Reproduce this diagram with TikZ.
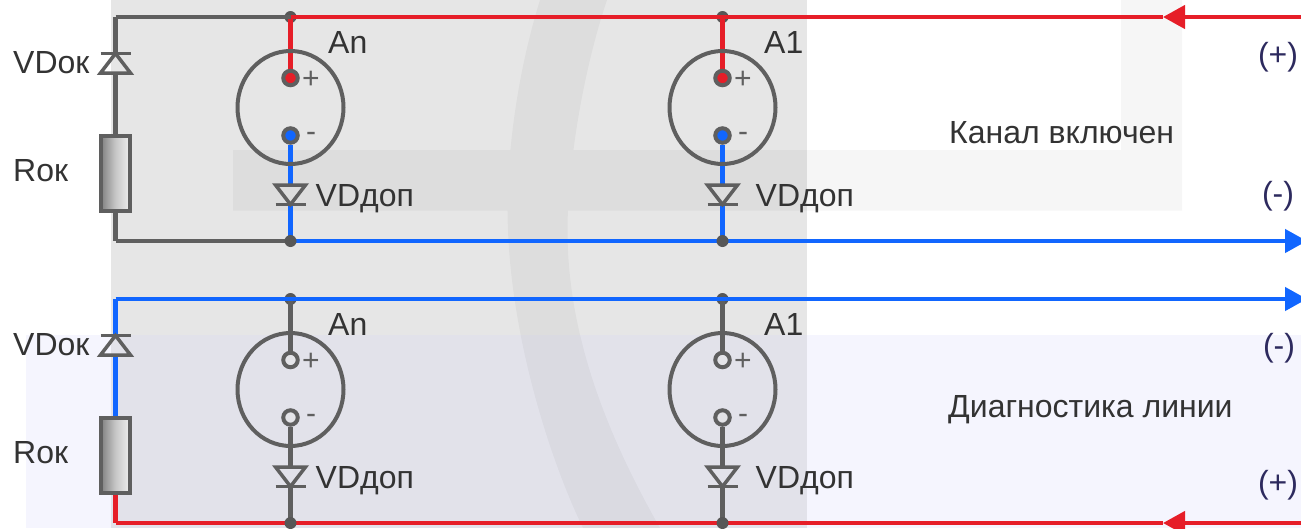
\documentclass[tikz,border=0pt]{standalone}
\usepackage{fontspec}
\setmainfont{Liberation Sans}
\usetikzlibrary{arrows.meta,calc,shapes.geometric}
\definecolor{wgray}{HTML}{5F5F5F}
\definecolor{wred}{HTML}{E61E28}
\definecolor{wblue}{HTML}{1166FF}
\definecolor{lav}{HTML}{F5F5FE}
\definecolor{bgray}{HTML}{E6E6E6}
\definecolor{both}{HTML}{E2E2EA}
\definecolor{txt}{HTML}{333333}
\definecolor{navy}{HTML}{2D2A5E}
\pgfdeclarelayer{dots}
\pgfdeclarelayer{wires}
\pgfsetlayers{dots,wires,main}
\tikzset{
  wire/.style={line width=4.4pt,miter limit=10},
  junction/.style={circle,fill=wgray!92!black,inner sep=0pt,minimum size=12pt},
  term/.style={circle,draw=wgray,line width=4pt,inner sep=0pt,minimum size=14.5pt},
  body/.style={ellipse,draw=wgray,line width=4pt,inner sep=0pt,minimum width=106pt,minimum height=113pt},
  res/.style={rectangle,draw=wgray,line width=4pt,inner sep=0pt,minimum width=29.5pt,minimum height=75pt,
    left color=black!50,right color=black!6,middle color=black!22},
  sym/.style={draw=wgray,line width=3.5pt,line join=miter,miter limit=10},
  lab/.style={anchor=base west,inner sep=0pt,text=txt,font=\fontsize{32}{32}\selectfont},
  sgn/.style={anchor=base,inner sep=0pt,text=wgray,font=\fontsize{30}{30}\selectfont},
  pol/.style={anchor=base,inner sep=0pt,text=navy,font=\fontsize{32}{32}\selectfont},
  bigarrow/.style={-{Triangle[length=22pt,width=23pt]}},
}
% unit: name, x, y offset, colour of + lead, colour of - lead, fill of + , fill of -, label
\newcommand\SensorUnit[8]{%
  \begin{pgfonlayer}{dots}
    \node[junction] (#1top) at (#2,17+#3) {};
  \end{pgfonlayer}
  \node[junction] (#1bot) at (#2,241+#3) {};
  \node[body] (#1body) at (#2,107.5+#3) {};
  \node[term,fill=#6] (#1plus) at (#2,78+#3) {};
  \node[term,fill=#7] (#1minus) at (#2,135.5+#3) {};
  \coordinate (#1da) at (#2,185+#3);
  \coordinate (#1dk) at (#2,204.5+#3);
  \begin{pgfonlayer}{wires}
    \draw[wire,#4] (#1top.center) -- (#1plus.north);
    \draw[wire,#5] (#1minus.south) -- (#1da);
    \draw[wire,#5] (#1dk) -- (#1bot.center);
  \end{pgfonlayer}
  \draw[sym] ($(#1da)+(-15,0)$) -- ($(#1da)+(15,0)$) -- (#1dk) -- cycle;
  \draw[sym] ($(#1dk)+(-15,0)$) -- ($(#1dk)+(15,0)$);
  \node[sgn] (#1ps) at (#2+20.5,88.5+#3) {+};
  \node[sgn] (#1ms) at (#2+20.5,141.5+#3) {-};
  \node[lab] (#1name) at (#2+#8,53.5+#3) {\ifdim#2pt<500pt An\else A1\fi};
  \node[lab] (#1vd) at (#2+\ifdim#2pt<500pt 25\else 33\fi,206+#3) {VDдоп};
}
% left branch: name, y offset, upper colour, lower colour
\newcommand\LeftBranch[4]{%
  \coordinate (#1a) at (115.5,17+#2);
  \coordinate (#1b) at (115.5,241+#2);
  \coordinate (#1dk) at (115.5,53.5+#2);
  \coordinate (#1da) at (115.5,73+#2);
  \node[res] (#1r) at (115.5,173+#2) {};
  \begin{pgfonlayer}{wires}
    \draw[wire,#3] (#1a) -- (#1dk);
    \draw[wire,#3] (#1da) -- (#1r.north);
    \draw[wire,#4] (#1r.south) -- (#1b);
  \end{pgfonlayer}
  \draw[sym] ($(#1da)+(-15,0)$) -- ($(#1da)+(15,0)$) -- (#1dk) -- cycle;
  \draw[sym] ($(#1dk)+(-15,0)$) -- ($(#1dk)+(15,0)$);
  \node[lab] (#1vd) at (13,73+#2) {VDок};
  \node[lab] (#1rt) at (13,181+#2) {Rок};
}
\begin{document}
\begin{tikzpicture}[x=1pt,y=-1pt]
\useasboundingbox (0,0) rectangle (1301,528);
% backgrounds
\begin{pgfonlayer}{dots}
\fill[lav] (26,335) rectangle (1301,528);
\fill[bgray] (111,0) rectangle (807,335);
\fill[both] (111,335) rectangle (807,528);
\fill[black,opacity=.035]
  (233,150) -- (233,210.5) -- (1182,210.5) -- (1182,150) -- cycle
  (1121,0) -- (1121,150) -- (1182,150) -- (1182,0) -- cycle
  (540,0) .. controls (515,80) and (505,170) .. (508,230) .. controls (512,340) and (550,460) .. (583,528)
  -- (660,528) .. controls (610,440) and (562,330) .. (568,210) .. controls (572,130) and (590,50) .. (607,0) -- cycle;
\end{pgfonlayer}

\SensorUnit{a}{290.5}{0}{wred}{wblue}{wred}{wblue}{37.5}
\SensorUnit{b}{722.5}{0}{wred}{wblue}{wred}{wblue}{41.5}
\SensorUnit{c}{290.5}{282}{wgray}{wgray}{bgray!60!both}{bgray!60!both}{37.5}
\SensorUnit{d}{722.5}{282}{wgray}{wgray}{bgray!60!both}{bgray!60!both}{41.5}
\LeftBranch{p}{0}{wgray}{wgray}
\LeftBranch{q}{282}{wblue}{wred}

% bus ends
\coordinate (e1) at (1301,17);
\coordinate (t1) at (1163,17);
\coordinate (e2) at (1307,241);
\coordinate (e3) at (1307,299);
\coordinate (e4) at (1301,523);
\coordinate (t4) at (1163,523);

\begin{pgfonlayer}{wires}
\draw[wire,wgray] (pb) -- (abot.center);
\draw[wire,wgray] (pa) -- (atop.center);
\draw[wire,wred] (atop.center) -- (btop.center) -- (t1);
\draw[wire,wred,bigarrow] (e1) -- (t1);
\draw[wire,wblue,bigarrow] (abot.center) -- (bbot.center) -- (e2);
\draw[wire,wblue,bigarrow] (qa) -- (ctop.center) -- (dtop.center) -- (e3);
\draw[wire,wred] (qb) -- (cbot.center) -- (dbot.center) -- (t4);
\draw[wire,wred,bigarrow] (e4) -- (t4);
\end{pgfonlayer}

\node[pol] (pl1) at (1278,65.5) {(+)};
\node[pol] (mi1) at (1278,204) {(-)};
\node[pol] (mi2) at (1279,356) {(-)};
\node[pol] (pl2) at (1278,493) {(+)};
\node[lab] (s1) at (949,143) {Канал включен};
\node[lab] (s2) at (948,417.5) {Диагностика линии};
\end{tikzpicture}
\end{document}
